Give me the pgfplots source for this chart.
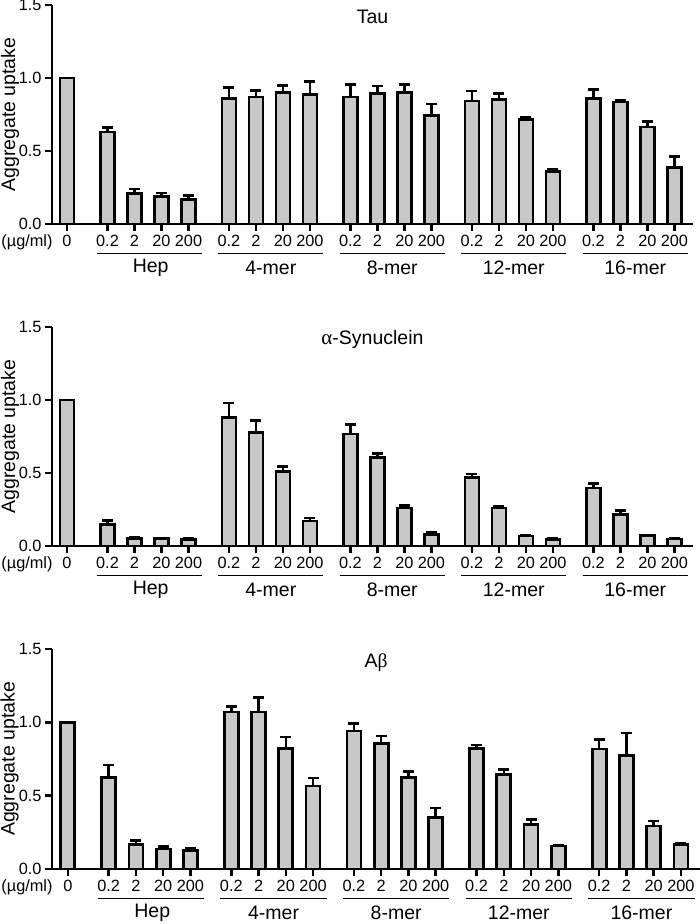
\documentclass[border=0pt]{standalone}
\usepackage{pgfplots}
\pgfplotsset{compat=1.18}
\usepackage{pgfplotstable}
\usepackage{fontspec}
\setmainfont{Liberation Sans}
\newfontfamily\greek{Liberation Serif}
\newcommand{\tfs}{\fontsize{16.3}{19}\selectfont}
\newcommand{\bfs}{\fontsize{19.5}{23}\selectfont}
\definecolor{barfill}{RGB}{200,200,200}

\pgfplotstableread{
x y e
1.5 0.63 0.03
2.5 0.21 0.03
3.5 0.186 0.027
4.5 0.17 0.027
6 0.86 0.073
7 0.87 0.045
8 0.90 0.05
9 0.885 0.092
10.5 0.87 0.084
11.5 0.892 0.053
12.5 0.90 0.056
13.5 0.743 0.08
15 0.842 0.068
16 0.853 0.041
17 0.716 0.018
18 0.358 0.014
19.5 0.858 0.064
20.5 0.835 0.014
21.5 0.665 0.039
22.5 0.385 0.076
}\tautab

\pgfplotstableread{
x y e
1.5 0.149 0.025
2.5 0.053 0.007
3.5 0.05 0.005
4.5 0.046 0.004
6 0.879 0.10
7 0.776 0.084
8 0.51 0.035
9 0.172 0.02
10.5 0.767 0.066
11.5 0.606 0.026
12.5 0.261 0.018
13.5 0.08 0.012
15 0.471 0.023
16 0.261 0.014
17 0.069 0.004
18 0.046 0.004
19.5 0.398 0.03
20.5 0.217 0.028
21.5 0.071 0.002
22.5 0.048 0.005
}\syntab

\pgfplotstableread{
x y e
1.5 0.622 0.086
2.5 0.166 0.03
3.5 0.137 0.016
4.5 0.125 0.016
6 1.071 0.038
7 1.071 0.098
8 0.822 0.078
9 0.565 0.055
10.5 0.941 0.052
11.5 0.856 0.051
12.5 0.626 0.037
13.5 0.351 0.064
15 0.82 0.025
16 0.645 0.032
17 0.303 0.034
18 0.157 0.003
19.5 0.818 0.064
20.5 0.772 0.155
21.5 0.294 0.034
22.5 0.169 0.004
}\abtab

\pgfplotsset{
 panel/.style={
  scale only axis, anchor=south west,
  ymin=0, ymax=1.5,
  axis x line*=bottom, axis y line*=left,
  axis line style={line width=2.6pt, black, -},
  tick style={line width=2.6pt, black},
  major tick length=7pt, tick align=outside,
  xtick={0,1.5,2.5,3.5,4.5,6,7,8,9,10.5,11.5,12.5,13.5,15,16,17,18,19.5,20.5,21.5,22.5},
  xticklabels={0,0.2,2,20,200,0.2,2,20,200,0.2,2,20,200,0.2,2,20,200,0.2,2,20,200},
  ytick={0,0.5,1,1.5},
  yticklabel style={/pgf/number format/.cd, fixed, fixed zerofill, precision=1},
  xticklabel style={yshift=-0.5pt},
  /pgf/number format/assume math mode=true,
  tick label style={font=\tfs},
  ylabel={Aggregate uptake},
  ylabel style={font=\bfs, at={(axis description cs:-0.0655,0.5)}, anchor=center},
  clip=false,
 },
 bars/.style={ybar, bar width=14pt, fill=barfill, draw=black, line width=2.7pt},
}

\newcommand{\grpl}[4]{%
 \draw[line width=1.8pt] ([yshift=-29.5pt]axis cs:#1,0) -- ([yshift=-29.5pt]axis cs:#2,0);
 \node[font=\bfs, anchor=center] at ([yshift=-43.5pt]axis cs:#3,0) {#4};}
\newcommand{\groups}{%
 \grpl{1.1}{5.0}{3.1}{Hep}
 \grpl{5.6}{9.5}{7.55}{4-mer}
 \grpl{10.1}{14.0}{12.05}{8-mer}
 \grpl{14.6}{18.5}{16.55}{12-mer}
 \grpl{19.1}{23.0}{21.05}{16-mer}
 \node[font=\tfs, anchor=center] at ([xshift=-25pt, yshift=-18.5pt]rel axis cs:0,0) {(µg/ml)};
}
\newcommand{\errs}{error bars/y dir=plus, error bars/y explicit,
  error bars/error bar style={line width=2.6pt, black},
  error bars/error mark options={rotate=90, mark size=5.5pt, line width=2.6pt, black}}

\begin{document}
\begin{tikzpicture}
\begin{axis}[panel, at={(52pt,-224pt)}, width=641pt, height=219pt, xmin=-0.556, xmax=23.19]
\addplot[bars] coordinates {(0,1)};
\expandafter\addplot\expandafter[\errs, bars] table[x=x, y=y, y error=e] {\tautab};
\groups
\node[font=\bfs] at ([yshift=-12pt]rel axis cs:0.5,1) {Tau};
\end{axis}

\begin{axis}[panel, at={(52pt,-546pt)}, width=641pt, height=219pt, xmin=-0.556, xmax=23.19]
\addplot[bars] coordinates {(0,1)};
\expandafter\addplot\expandafter[\errs, bars] table[x=x, y=y, y error=e] {\syntab};
\groups
\node[font=\bfs] at ([yshift=-12pt]rel axis cs:0.5,1) {{\greek\fontsize{21}{23}\selectfont α}-Synuclein};
\end{axis}

\begin{axis}[panel, at={(52pt,-869pt)}, width=648pt, height=220pt, xmin=-0.58, xmax=23.2]
\addplot[bars] coordinates {(0,1)};
\expandafter\addplot\expandafter[\errs, bars] table[x=x, y=y, y error=e] {\abtab};
\groups
\node[font=\bfs] at ([yshift=-14pt]rel axis cs:0.5,1) {A{\greek β}};
\end{axis}
\pgfresetboundingbox
\path[use as bounding box] (0pt,0pt) rectangle (700pt,-924pt);
\end{tikzpicture}
\end{document}
